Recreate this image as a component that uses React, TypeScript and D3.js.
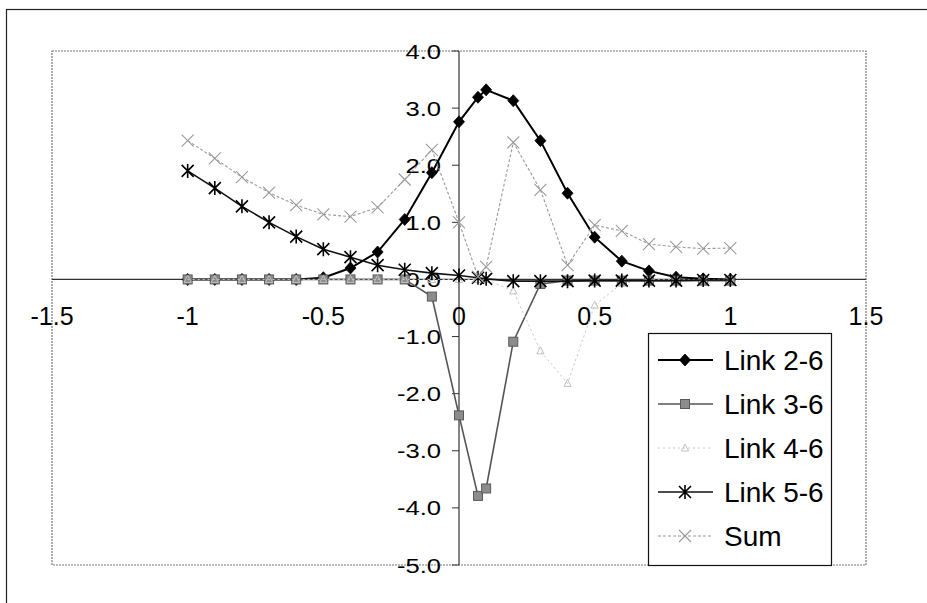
import React from "react";
import * as d3 from "d3";

const xs = [-1, -0.9, -0.8, -0.7, -0.6, -0.5, -0.4, -0.3, -0.2, -0.1, 0, 0.07, 0.1, 0.2, 0.3, 0.4, 0.5, 0.6, 0.7, 0.8, 0.9, 1];
const link26 = [0, 0, 0, 0, 0, 0.03, 0.2, 0.48, 1.05, 1.87, 2.76, 3.19, 3.32, 3.13, 2.43, 1.51, 0.74, 0.32, 0.15, 0.04, 0.01, 0];
const link36 = [0, 0, 0, 0, 0, 0, 0, 0, 0, -0.3, -2.38, -3.79, -3.66, -1.09, -0.08, -0.02, -0.02, -0.02, -0.02, -0.02, -0.02, -0.02];
const link46 = [0, 0, 0, 0, 0, 0, 0, 0, 0, 0, 0, 0, 0, -0.2, -1.25, -1.82, -0.45, -0.07, 0, 0, 0, 0];
const link56 = [1.9, 1.6, 1.28, 1.0, 0.75, 0.53, 0.39, 0.25, 0.17, 0.11, 0.07, 0.03, 0.01, -0.03, -0.03, -0.03, -0.02, -0.02, -0.02, -0.02, -0.01, -0.01];
const sumVals = [2.43, 2.12, 1.79, 1.52, 1.3, 1.14, 1.1, 1.26, 1.75, 2.27, 1.0, 0.05, 0.22, 2.4, 1.57, 0.25, 0.95, 0.85, 0.62, 0.57, 0.54, 0.55];

const seriesNames = ["Link 2-6", "Link 3-6", "Link 4-6", "Link 5-6", "Sum"];
const xTicks = [-1.5, -1, -0.5, 0, 0.5, 1, 1.5];
const yTicks = [4, 3, 2, 1, 0, -1, -2, -3, -4, -5];

const W = 927;
const H = 603;
const FONT = "'Liberation Sans', Arial, sans-serif";

type Style = {
  stroke: string;
  width: number;
  dash?: string;
  marker: "diamond" | "square" | "triangle" | "star" | "x";
};

const styles: Style[] = [
  { stroke: "#000", width: 2, marker: "diamond" },
  { stroke: "#555", width: 1.6, marker: "square" },
  { stroke: "#c4c4c4", width: 1, dash: "2,3", marker: "triangle" },
  { stroke: "#111", width: 1.6, marker: "star" },
  { stroke: "#9a9a9a", width: 1.1, dash: "3,2", marker: "x" },
];

function Marker({ kind, x, y }: { kind: Style["marker"]; x: number; y: number }) {
  const t = `translate(${x},${y})`;
  if (kind === "diamond") {
    return <path transform={t} d="M0,-6L5.5,0L0,6L-5.5,0Z" fill="#000" stroke="#000" strokeWidth={0.8} />;
  }
  if (kind === "square") {
    return <rect transform={t} x={-4.5} y={-4.5} width={9} height={9} fill="#8c8c8c" stroke="#5a5a5a" strokeWidth={1} />;
  }
  if (kind === "triangle") {
    return <path transform={t} d="M0,-4L3.6,3L-3.6,3Z" fill="none" stroke="#c0c0c0" strokeWidth={1} />;
  }
  if (kind === "star") {
    return (
      <path
        transform={t}
        d="M-6,-6L6,6M-6,6L6,-6M0,-7L0,7"
        stroke="#000"
        strokeWidth={1.6}
        fill="none"
      />
    );
  }
  return <path transform={t} d="M-6,-6L6,6M-6,6L6,-6" stroke="#9a9a9a" strokeWidth={1.1} fill="none" />;
}

export default function App() {
  const x = d3.scaleLinear().domain([-1.5, 1.5]).range([52, 866]);
  const y = d3.scaleLinear().domain([-5, 4]).range([565, 51]);
  const all = [link26, link36, link46, link56, sumVals];
  const line = d3
    .line<number>()
    .x((_, i) => x(xs[i]))
    .y((v) => y(v));

  const legX0 = 648;
  const legX1 = 831;
  const legY0 = 333;
  const legY1 = 565;
  const rowY = (i: number) => 360 + i * 44;

  return (
    <svg
      width={W}
      height={H}
      style={{ position: "absolute", left: 0, top: 0, background: "#fff" }}
      fontFamily={FONT}
    >
      <rect x={0} y={0} width={W} height={H} fill="#fff" />
      {/* outer frame */}
      <rect x={6.5} y={9.5} width={W + 20} height={H + 20} fill="none" stroke="#222" strokeWidth={1.2} />
      {/* plot area border */}
      <rect
        x={x(-1.5)}
        y={y(4)}
        width={x(1.5) - x(-1.5)}
        height={y(-5) - y(4)}
        fill="none"
        stroke="#777"
        strokeWidth={1.2}
        strokeDasharray="2,1"
      />
      {/* axes */}
      <line x1={x(-1.5)} x2={x(1.5)} y1={y(0)} y2={y(0)} stroke="#333" strokeWidth={1.2} />
      <line x1={x(0)} x2={x(0)} y1={y(4)} y2={y(-5)} stroke="#333" strokeWidth={1.2} />
      {yTicks.map((t) => (
        <line key={"yt" + t} x1={x(0) - 7} x2={x(0)} y1={y(t)} y2={y(t)} stroke="#333" strokeWidth={1} />
      ))}
      {yTicks.map((t) => (
        <text
          key={"yl" + t}
          transform={`translate(${x(0) - 18},${y(t) + 7.5}) scale(1.28,1)`}
          textAnchor="end"
          fontSize={20}
          fill="#000"
        >
          {t.toFixed(1)}
        </text>
      ))}
      {xTicks.map((t) => (
        <text key={"xl" + t} x={x(t)} y={y(0) + 45.5} textAnchor="middle" fontSize={25} fill="#000">
          {String(t)}
        </text>
      ))}
      {/* series */}
      {all.map((vals, si) => (
        <g key={"s" + si}>
          <path
            d={line(vals) || ""}
            fill="none"
            stroke={styles[si].stroke}
            strokeWidth={styles[si].width}
            strokeDasharray={styles[si].dash}
          />
          {vals.map((v, i) => (
            <Marker key={i} kind={styles[si].marker} x={x(xs[i])} y={y(v)} />
          ))}
        </g>
      ))}
      {/* legend */}
      <rect x={legX0 + 0.5} y={legY0 + 0.5} width={legX1 - legX0} height={legY1 - legY0} fill="#fff" stroke="#111" strokeWidth={1.2} />
      {seriesNames.map((name, i) => (
        <g key={"lg" + i}>
          <line
            x1={658}
            x2={713}
            y1={rowY(i)}
            y2={rowY(i)}
            stroke={styles[i].stroke}
            strokeWidth={styles[i].width}
            strokeDasharray={styles[i].dash}
          />
          <Marker kind={styles[i].marker} x={685} y={rowY(i)} />
          <text x={724} y={rowY(i) + 10} fontSize={28} fill="#000">
            {name}
          </text>
        </g>
      ))}
    </svg>
  );
}
